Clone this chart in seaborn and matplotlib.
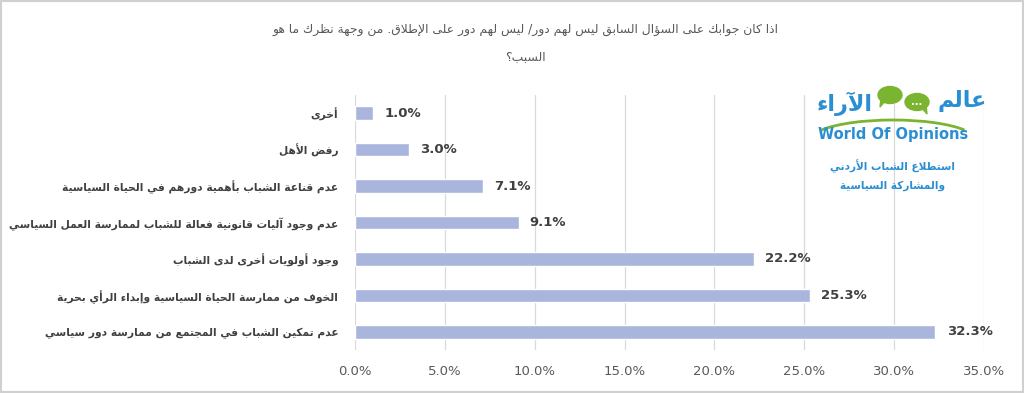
import matplotlib

matplotlib.use("Agg")
import matplotlib.pyplot as plt
import pandas as pd
import seaborn as sns
from matplotlib.patches import Arc, Ellipse, Polygon, Rectangle


TITLE_LINES = [
    "اذا كان جوابك على السؤال السابق ليس لهم دور/ ليس لهم دور على الإطلاق. من وجهة نظرك ما هو",
    "السبب؟",
]
REASONS = [
    "أخرى",
    "رفض الأهل",
    "عدم قناعة الشباب بأهمية دورهم في الحياة السياسية",
    "عدم وجود آليات قانونية فعالة للشباب لممارسة العمل السياسي",
    "وجود أولويات أخرى لدى الشباب",
    "الخوف من ممارسة الحياة السياسية وإبداء الرأي بحرية",
    "عدم تمكين الشباب في المجتمع من ممارسة دور سياسي",
]
PERCENTS = [1.0, 3.0, 7.1, 9.1, 22.2, 25.3, 32.3]
X_TICKS = [0, 5, 10, 15, 20, 25, 30, 35]
LOGO_AR_RIGHT = "عالم"
LOGO_AR_LEFT = "الآراء"
LOGO_EN = "World Of Opinions"
SURVEY_LINES = ["استطلاع الشباب الأردني", "والمشاركة السياسية"]

BAR_COLOR = "#A9B5DC"
TEXT_DARK = "#404040"
TEXT_GREY = "#595959"
LOGO_BLUE = "#2A8FD2"
LOGO_GREEN = "#7BB530"


# --- minimal Arabic shaping (matplotlib does no shaping / bidi) ---
ARABIC_ORDER = "ءآأؤإئابةتثجحخدذرزسشصضطظعغفقكلمنهوىي"
RIGHT_JOIN = set("آأؤإاةدذرزوى")
LAM_ALEF = {"آ": 0xFEF5, "أ": 0xFEF7, "إ": 0xFEF9, "ا": 0xFEFB}

FORMS = {}
code = 0xFE80
for ch in ARABIC_ORDER:
    if ch == "ء":
        FORMS[ch] = [chr(code)] * 4
        code += 1
    elif ch in RIGHT_JOIN:
        FORMS[ch] = [chr(code), chr(code + 1), chr(code), chr(code + 1)]
        code += 2
    else:
        FORMS[ch] = [chr(code + k) for k in range(4)]
        code += 4
for lig in LAM_ALEF.values():
    FORMS[chr(lig)] = [chr(lig), chr(lig + 1), chr(lig), chr(lig + 1)]
    RIGHT_JOIN.add(chr(lig))


def joins_prev(c):
    return c in FORMS and c != "ء"


def joins_next(c):
    return c in FORMS and c != "ء" and c not in RIGHT_JOIN


def shape(text):
    chars = []
    i = 0
    while i < len(text):
        c = text[i]
        if c == "ل" and i + 1 < len(text) and text[i + 1] in LAM_ALEF:
            chars.append(chr(LAM_ALEF[text[i + 1]]))
            i += 2
            continue
        chars.append(c)
        i += 1
    out = []
    for i, c in enumerate(chars):
        if c not in FORMS:
            out.append(c)
            continue
        p = i > 0 and joins_next(chars[i - 1]) and joins_prev(c)
        n = i + 1 < len(chars) and joins_next(c) and joins_prev(chars[i + 1])
        idx = 3 if (p and n) else 1 if p else 2 if n else 0
        out.append(FORMS[c][idx])
    return "".join(out)[::-1]


def main() -> None:
    df = pd.DataFrame({"reason": REASONS, "percent": PERCENTS})

    sns.set_theme(style="white")
    plt.rcParams["font.family"] = ["DejaVu Sans"]

    fig = plt.figure(figsize=(10.24, 3.93), dpi=100)
    ax = fig.add_axes([355 / 1024, 1 - 350 / 393, 629 / 1024, 255 / 393])

    sns.barplot(
        data=df,
        x="percent",
        y="reason",
        orient="h",
        color=BAR_COLOR,
        width=0.37,
        saturation=1,
        ax=ax,
    )

    ax.set_xlim(0, 35)
    ax.set_xticks(X_TICKS, [f"{t:.1f}%" for t in X_TICKS])
    ax.set_yticks(range(len(REASONS)), [shape(r) for r in REASONS])
    ax.set_xlabel("")
    ax.set_ylabel("")
    ax.xaxis.grid(True, color="#D9D9D9", linewidth=0.9)
    ax.set_axisbelow(True)
    for spine in ax.spines.values():
        spine.set_visible(False)
    ax.tick_params(axis="x", length=0, pad=11, labelsize=9.5, labelcolor=TEXT_GREY)
    ax.tick_params(axis="y", length=0, pad=12, labelsize=7.7, labelcolor=TEXT_DARK)
    for label in ax.get_yticklabels():
        label.set_fontweight("bold")

    for container in ax.containers:
        ax.bar_label(
            container,
            labels=[f"{v:.1f}%" for v in PERCENTS],
            padding=8,
            fontsize=9.5,
            fontweight="bold",
            color=TEXT_DARK,
        )

    fig.text(0.513, 1 - 30 / 393, shape(TITLE_LINES[0]), ha="center", va="center",
             fontsize=8.9, color=TEXT_GREY)
    fig.text(0.513, 1 - 57 / 393, shape(TITLE_LINES[1]), ha="center", va="center",
             fontsize=8.9, color=TEXT_GREY)

    # logo block
    fig.text(962 / 1024, 1 - 101 / 393, shape(LOGO_AR_RIGHT), ha="center", va="center",
             fontsize=16, fontweight="bold", color=LOGO_BLUE)
    fig.text(845 / 1024, 1 - 104 / 393, shape(LOGO_AR_LEFT), ha="center", va="center",
             fontsize=16, fontweight="bold", color=LOGO_BLUE)
    for cx, cy, tail in [(890, 95, -1), (917, 102, 1)]:
        fig.patches.append(Ellipse((cx / 1024, 1 - cy / 393), 24 / 1024, 17 / 393,
                                   transform=fig.transFigure, color=LOGO_GREEN))
        fig.patches.append(Polygon(
            [((cx + tail * 4) / 1024, 1 - (cy + 5) / 393),
             ((cx + tail * 10) / 1024, 1 - (cy + 12) / 393),
             ((cx + tail * 9) / 1024, 1 - (cy + 3) / 393)],
            transform=fig.transFigure, color=LOGO_GREEN))
    fig.text(917 / 1024, 1 - 102 / 393, "...", ha="center", va="center",
             fontsize=7, fontweight="bold", color="white")
    fig.patches.append(Arc((893 / 1024, 1 - 140 / 393), 165 / 1024, 40 / 393,
                           theta1=20, theta2=160, transform=fig.transFigure,
                           color=LOGO_GREEN, linewidth=2))
    fig.text(893 / 1024, 1 - 134 / 393, LOGO_EN, ha="center", va="center",
             fontsize=10.5, fontweight="bold", color=LOGO_BLUE)
    fig.text(893 / 1024, 1 - 166 / 393, shape(SURVEY_LINES[0]), ha="center", va="center",
             fontsize=7.6, fontweight="bold", color=LOGO_BLUE)
    fig.text(893 / 1024, 1 - 186 / 393, shape(SURVEY_LINES[1]), ha="center", va="center",
             fontsize=7.6, fontweight="bold", color=LOGO_BLUE)

    fig.patches.append(Rectangle((0, 0), 1, 1, transform=fig.transFigure, fill=False,
                                 edgecolor="#D0D0D0", linewidth=3))

    fig.savefig("out.png", dpi=100)
    plt.close(fig)


if __name__ == "__main__":
    main()
